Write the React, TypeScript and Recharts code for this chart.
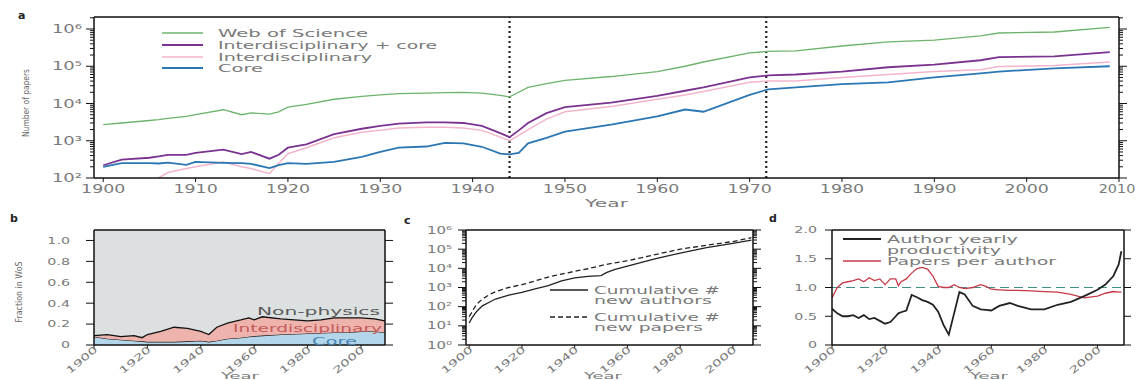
import React from "react";
import {
  LineChart,
  Line,
  AreaChart,
  Area,
  XAxis,
  YAxis,
  ReferenceLine,
  ReferenceArea,
} from "recharts";

// a: number of papers per year (log scale)
const yearsA = [1900, 1902, 1905, 1906, 1907, 1909, 1910, 1913, 1915, 1916, 1918, 1919, 1920, 1922, 1925, 1928, 1930, 1932, 1935, 1937, 1939, 1941, 1943, 1944, 1945, 1946, 1948, 1950, 1955, 1960, 1963, 1965, 1970, 1972, 1975, 1980, 1985, 1990, 1995, 1997, 2003, 2009];
const webOfScience = [2700, 3000, 3500, 3700, 4000, 4500, 5000, 6800, 5000, 5600, 5200, 6000, 8000, 9500, 13000, 15500, 17000, 18500, 19000, 19500, 20000, 19000, 16500, 15000, 20000, 27000, 34000, 42000, 53000, 72000, 100000, 130000, 230000, 250000, 260000, 350000, 450000, 500000, 650000, 780000, 830000, 1100000];
const interPlusCore = [220, 310, 350, 380, 420, 420, 470, 580, 440, 500, 330, 420, 650, 800, 1500, 2100, 2500, 2900, 3100, 3100, 3000, 2500, 1600, 1250, 1900, 3000, 5500, 8000, 10500, 16000, 22000, 27000, 50000, 57000, 60000, 72000, 94000, 110000, 145000, 175000, 185000, 240000];
const interdisciplinary = [null, null, null, 100, 140, 180, 200, 270, 200, 180, 130, 250, 450, 650, 1200, 1700, 1900, 2200, 2300, 2300, 2200, 1900, 1250, 1000, 1400, 2000, 3800, 6000, 8300, 13000, 17000, 21000, 37000, 40000, 40000, 50000, 60000, 72000, 80000, 98000, 105000, 130000];
const corePapers = [200, 250, 250, 245, 260, 225, 270, 255, 250, 240, 185, 220, 250, 240, 270, 370, 500, 650, 700, 880, 850, 690, 450, 430, 470, 850, 1200, 1750, 2700, 4500, 6900, 6000, 17000, 24000, 27000, 33000, 37000, 50000, 64000, 72000, 88000, 100000];
const ticksA = [1900, 1910, 1920, 1930, 1940, 1950, 1960, 1970, 1980, 1990, 2000, 2010];

// b: fraction in WoS
const yearsB = [1900, 1905, 1910, 1915, 1918, 1920, 1925, 1930, 1935, 1940, 1943, 1946, 1950, 1955, 1958, 1960, 1963, 1970, 1975, 1980, 1985, 1990, 1995, 2000, 2005, 2009];
const coreFrac = [0.08, 0.06, 0.05, 0.04, 0.035, 0.03, 0.03, 0.03, 0.035, 0.04, 0.03, 0.04, 0.06, 0.07, 0.08, 0.085, 0.09, 0.1, 0.105, 0.11, 0.115, 0.12, 0.12, 0.13, 0.13, 0.12];
const interFrac = [0.01, 0.04, 0.03, 0.05, 0.035, 0.07, 0.1, 0.14, 0.125, 0.09, 0.07, 0.13, 0.15, 0.17, 0.18, 0.155, 0.18, 0.15, 0.135, 0.12, 0.125, 0.14, 0.14, 0.13, 0.12, 0.11];

// c: cumulative counts
const yearsC = [1900, 1901, 1902, 1903, 1905, 1908, 1910, 1915, 1920, 1925, 1930, 1935, 1940, 1945, 1950, 1952, 1955, 1960, 1970, 1980, 1990, 2000, 2007];
const cumAuthors = [14, 25, 40, 60, 110, 180, 250, 400, 550, 850, 1250, 2200, 3200, 3800, 4200, 6000, 8500, 13000, 30000, 63000, 120000, 200000, 300000];
const cumPapers = [30, 50, 90, 140, 250, 450, 600, 1000, 1400, 2200, 3500, 5000, 7000, 9500, 14000, 16000, 19000, 25000, 50000, 100000, 160000, 250000, 400000];

// d: productivity
const yearsD = [1900, 1902, 1904, 1906, 1908, 1910, 1912, 1914, 1916, 1918, 1920, 1922, 1924, 1925, 1926, 1928, 1930, 1932, 1934, 1936, 1938, 1940, 1942, 1944, 1946, 1948, 1950, 1953, 1956, 1958, 1960, 1963, 1967, 1970, 1975, 1980, 1985, 1990, 1995, 2000, 2003, 2006, 2008, 2009];
const productivity = [0.63, 0.55, 0.5, 0.5, 0.52, 0.47, 0.52, 0.45, 0.47, 0.42, 0.37, 0.4, 0.5, 0.55, 0.57, 0.6, 0.87, 0.83, 0.78, 0.75, 0.7, 0.58, 0.35, 0.18, 0.55, 0.92, 0.88, 0.68, 0.62, 0.61, 0.6, 0.68, 0.73, 0.68, 0.62, 0.62, 0.7, 0.75, 0.85, 0.96, 1.05, 1.2, 1.4, 1.63];
const papersPerAuthor = [0.82, 1.0, 1.08, 1.1, 1.12, 1.15, 1.1, 1.17, 1.12, 1.15, 1.05, 1.15, 1.15, 1.03, 1.1, 1.15, 1.25, 1.33, 1.35, 1.32, 1.2, 1.02, 1.0, 1.0, 1.05, 1.0, 0.98, 1.0, 1.05, 1.02, 0.97, 0.96, 0.95, 0.95, 0.94, 0.93, 0.92, 0.88, 0.82, 0.85, 0.9, 0.93, 0.92, 0.92];

const ticks20 = [1900, 1920, 1940, 1960, 1980, 2000];

const dataA = yearsA.map((year, i) => ({
  year,
  wos: webOfScience[i],
  interCore: interPlusCore[i],
  inter: interdisciplinary[i],
  core: corePapers[i],
}));
const dataB = yearsB.map((year, i) => ({ year, core: coreFrac[i], inter: interFrac[i] }));
const dataC = yearsC.map((year, i) => ({ year, authors: cumAuthors[i], papers: cumPapers[i] }));
const dataD = yearsD.map((year, i) => ({ year, prod: productivity[i], ppa: papersPerAuthor[i] }));

const logTicks = (lo: number, hi: number) => {
  const out: number[] = [];
  for (let e = lo; e <= 6; e++) {
    for (let m = 1; m <= 9; m++) {
      const v = m * Math.pow(10, e);
      if (v <= hi) out.push(v);
    }
  }
  return out;
};
const ticksLogA = logTicks(2, 2.1e6);
const ticksLogC = logTicks(0, 1e6);

const FONT = "'DejaVu Sans', sans-serif";
const GRAY = "#7a7a7a";
const AXIS = "#111";
const SUP = ["⁰", "¹", "²", "³", "⁴", "⁵", "⁶"];

const makeLogTick = (side: "left" | "right", gap: number, fs: number) => (props: any) => {
  const { x, y, payload } = props;
  const v = payload.value;
  const e = Math.round(Math.log10(v));
  const major = Math.abs(v - Math.pow(10, e)) < 1e-6 * v;
  const dir = side === "left" ? -1 : 1;
  const len = major ? 8 : 4;
  return (
    <g>
      <line x1={x} x2={x + dir * len} y1={y} y2={y} stroke={AXIS} strokeWidth={1} />
      {side === "left" && major && (
        <text
          transform={`translate(${x - gap},${y}) scale(1.5,1)`}
          textAnchor="end"
          dy="0.35em"
          fontSize={fs}
          fill={GRAY}
          fontFamily={FONT}
        >
          {`10${SUP[e]}`}
        </text>
      )}
    </g>
  );
};

// the last label sits on the right edge, so it is squeezed a little to stay on the page
const XTickA = ({ x, y, payload }: any) => (
  <text
    transform={`translate(${payload.value === 2010 ? x - 2 : x},${y}) scale(${payload.value === 2010 ? 1.2 : 1.45},1)`}
    textAnchor="middle"
    dy="0.72em"
    fontSize={12}
    fill={GRAY}
    fontFamily={FONT}
  >
    {payload.value}
  </text>
);

const RotTick = ({ x, y, payload }: any) => (
  <text
    transform={`translate(${x + 2},${y - 3}) rotate(-40) scale(1.55,1)`}
    textAnchor="end"
    dy="0.35em"
    fontSize={9.5}
    fill={GRAY}
    fontFamily={FONT}
  >
    {payload.value}
  </text>
);

const linTick = (fmt: (v: number) => string) => ({ x, y, payload }: any) => (
  <text
    transform={`translate(${x},${y}) scale(1.5,1)`}
    textAnchor="end"
    dy="0.35em"
    fontSize={9.5}
    fill={GRAY}
    fontFamily={FONT}
  >
    {fmt(payload.value)}
  </text>
);

const noLabel = () => <g />;

const fmtB = (v: number) => (v === 0 ? "0" : v.toFixed(1));
const fmtD = (v: number) => (v === 0 ? "0" : v.toFixed(1));

const axisLine = { stroke: AXIS, strokeWidth: 1.5 };
const tickLine = { stroke: AXIS, strokeWidth: 1 };

const abs = (left: number, top: number): React.CSSProperties => ({
  position: "absolute",
  left,
  top,
});

const T = (p: { x: number; y: number; w: number; fs?: number; fill?: string; children: string }) => (
  <text
    x={p.x}
    y={p.y}
    dy="0.35em"
    fontSize={p.fs ?? 10}
    fill={p.fill ?? GRAY}
    fontFamily={FONT}
    textLength={p.w}
    lengthAdjust="spacingAndGlyphs"
  >
    {p.children}
  </text>
);

export default function App() {
  return (
    <div style={{ position: "absolute", left: 0, top: 0, width: 1137, height: 380, background: "#fff", overflow: "hidden" }}>
      {/* a */}
      <div style={abs(0, 0)}>
        <LineChart width={1137} height={215} data={dataA} margin={{ top: 16, right: 17, left: 0, bottom: 0 }}>
          <XAxis
            dataKey="year"
            type="number"
            domain={[1899, 2010]}
            allowDataOverflow
            ticks={ticksA}
            interval={0}
            height={37}
            axisLine={axisLine}
            tickLine={tickLine}
            tickSize={4}
            tickMargin={2}
            tick={XTickA}
          />
          <XAxis
            xAxisId="top"
            orientation="top"
            type="number"
            domain={[1899, 2010]}
            allowDataOverflow
            ticks={ticksA}
            interval={0}
            height={1}
            axisLine={axisLine}
            tickLine={tickLine}
            tickSize={3}
            tick={noLabel}
          />
          <YAxis
            scale="log"
            type="number"
            domain={[100, 2.1e6]}
            allowDataOverflow
            ticks={ticksLogA}
            interval={0}
            width={94}
            axisLine={axisLine}
            tickLine={false}
            tickSize={0}
            tickMargin={0}
            tick={makeLogTick("left", 12, 12)}
          />
          <YAxis
            yAxisId="right"
            orientation="right"
            scale="log"
            type="number"
            domain={[100, 2.1e6]}
            allowDataOverflow
            ticks={ticksLogA}
            interval={0}
            width={1}
            axisLine={axisLine}
            tickLine={false}
            tickSize={0}
            tickMargin={0}
            tick={makeLogTick("right", 0, 12)}
          />
          <ReferenceLine x={1944} stroke="#222" strokeWidth={2.2} strokeDasharray="2 3" />
          <ReferenceLine x={1971.8} stroke="#222" strokeWidth={2.2} strokeDasharray="2 3" />
          <Line dataKey="wos" stroke="#6cb46c" strokeWidth={1.3} dot={false} isAnimationActive={false} />
          <Line dataKey="inter" stroke="#f2b5cc" strokeWidth={1.5} dot={false} isAnimationActive={false} />
          <Line dataKey="interCore" stroke="#7a3390" strokeWidth={1.8} dot={false} isAnimationActive={false} />
          <Line dataKey="core" stroke="#2b77b3" strokeWidth={1.8} dot={false} isAnimationActive={false} />
        </LineChart>
      </div>

      {/* b */}
      <div style={abs(0, 200)}>
        <AreaChart width={400} height={180} data={dataB} margin={{ top: 29, right: 14, left: 0, bottom: 0 }}>
          <XAxis
            dataKey="year"
            type="number"
            domain={[1900, 2009]}
            allowDataOverflow
            ticks={ticks20}
            interval={0}
            height={35}
            axisLine={axisLine}
            tickLine={tickLine}
            tickSize={4}
            tickMargin={2}
            tick={RotTick}
          />
          <XAxis
            xAxisId="top"
            orientation="top"
            type="number"
            domain={[1900, 2009]}
            allowDataOverflow
            ticks={ticks20}
            interval={0}
            height={1}
            axisLine={axisLine}
            tickLine={tickLine}
            tickSize={3}
            tick={noLabel}
          />
          <YAxis
            type="number"
            domain={[0, 1.1]}
            allowDataOverflow
            ticks={[0, 0.2, 0.4, 0.6, 0.8, 1.0]}
            interval={0}
            width={94}
            axisLine={axisLine}
            tickLine={tickLine}
            tickSize={8}
            tickMargin={16}
            tick={linTick(fmtB)}
          />
          <YAxis
            yAxisId="right"
            orientation="right"
            type="number"
            domain={[0, 1.1]}
            allowDataOverflow
            ticks={[0, 0.2, 0.4, 0.6, 0.8, 1.0]}
            interval={0}
            width={1}
            axisLine={axisLine}
            tickLine={tickLine}
            tickSize={8}
            tick={noLabel}
          />
          <ReferenceArea x1={1900} x2={2009} y1={0} y2={1.1} fill="#dde0e1" fillOpacity={1} stroke="none" />
          <Area
            dataKey="core"
            stackId="1"
            type="linear"
            fill="#b4d6ea"
            fillOpacity={1}
            stroke="#111"
            strokeWidth={1.1}
            isAnimationActive={false}
          />
          <Area
            dataKey="inter"
            stackId="1"
            type="linear"
            fill="#efb3ad"
            fillOpacity={1}
            stroke="#111"
            strokeWidth={1.3}
            isAnimationActive={false}
          />
        </AreaChart>
      </div>

      {/* c */}
      <div style={abs(380, 200)}>
        <LineChart width={390} height={180} data={dataC} margin={{ top: 29, right: 16, left: 0, bottom: 0 }}>
          <XAxis
            dataKey="year"
            type="number"
            domain={[1898.8, 2007.6]}
            allowDataOverflow
            ticks={ticks20}
            interval={0}
            height={35}
            axisLine={axisLine}
            tickLine={tickLine}
            tickSize={4}
            tickMargin={2}
            tick={RotTick}
          />
          <XAxis
            xAxisId="top"
            orientation="top"
            type="number"
            domain={[1898.8, 2007.6]}
            allowDataOverflow
            ticks={ticks20}
            interval={0}
            height={1}
            axisLine={axisLine}
            tickLine={tickLine}
            tickSize={3}
            tick={noLabel}
          />
          <YAxis
            scale="log"
            type="number"
            domain={[1, 1e6]}
            allowDataOverflow
            ticks={ticksLogC}
            interval={0}
            width={86}
            axisLine={axisLine}
            tickLine={false}
            tickSize={0}
            tickMargin={0}
            tick={makeLogTick("left", 14, 10)}
          />
          <YAxis
            yAxisId="right"
            orientation="right"
            scale="log"
            type="number"
            domain={[1, 1e6]}
            allowDataOverflow
            ticks={ticksLogC}
            interval={0}
            width={1}
            axisLine={axisLine}
            tickLine={false}
            tickSize={0}
            tickMargin={0}
            tick={makeLogTick("right", 0, 10)}
          />
          <Line dataKey="authors" stroke="#222" strokeWidth={1.3} dot={false} isAnimationActive={false} />
          <Line dataKey="papers" stroke="#222" strokeWidth={1.3} strokeDasharray="5 3" dot={false} isAnimationActive={false} />
        </LineChart>
      </div>

      {/* d */}
      <div style={abs(760, 200)}>
        <LineChart width={377} height={180} data={dataD} margin={{ top: 29, right: 12, left: 0, bottom: 0 }}>
          <XAxis
            dataKey="year"
            type="number"
            domain={[1900, 2010]}
            allowDataOverflow
            ticks={ticks20}
            interval={0}
            height={35}
            axisLine={axisLine}
            tickLine={tickLine}
            tickSize={4}
            tickMargin={2}
            tick={RotTick}
          />
          <XAxis
            xAxisId="top"
            orientation="top"
            type="number"
            domain={[1900, 2010]}
            allowDataOverflow
            ticks={ticks20}
            interval={0}
            height={1}
            axisLine={axisLine}
            tickLine={tickLine}
            tickSize={3}
            tick={noLabel}
          />
          <YAxis
            type="number"
            domain={[0, 2]}
            allowDataOverflow
            ticks={[0, 0.5, 1, 1.5, 2]}
            interval={0}
            width={72}
            axisLine={axisLine}
            tickLine={tickLine}
            tickSize={7}
            tickMargin={8}
            tick={linTick(fmtD)}
          />
          <YAxis
            yAxisId="right"
            orientation="right"
            type="number"
            domain={[0, 2]}
            allowDataOverflow
            ticks={[0, 0.5, 1, 1.5, 2]}
            interval={0}
            width={1}
            axisLine={axisLine}
            tickLine={tickLine}
            tickSize={7}
            tick={noLabel}
          />
          <ReferenceLine y={1} stroke="#3f8f86" strokeWidth={1} strokeDasharray="9 5" />
          <Line dataKey="ppa" stroke="#c63a48" strokeWidth={1.3} dot={false} isAnimationActive={false} />
          <Line dataKey="prod" stroke="#222" strokeWidth={1.8} dot={false} isAnimationActive={false} />
        </LineChart>
      </div>

      {/* titles, legends, panel letters */}
      <svg width={1137} height={380} style={{ position: "absolute", left: 0, top: 0, pointerEvents: "none" }}>
        <g fontFamily={FONT} fontWeight="bold" fontSize={11} fill="#222">
          <text x={18} y={19}>a</text>
          <text x={10} y={222}>b</text>
          <text x={404} y={224}>c</text>
          <text x={769} y={222}>d</text>
        </g>

        <text transform="translate(26,103) rotate(-90)" textAnchor="middle" dy="0.35em" fontSize={9} fill="#666" fontFamily={FONT} textLength={68} lengthAdjust="spacingAndGlyphs">
          Number of papers
        </text>
        <text transform="translate(19,292) rotate(-90)" textAnchor="middle" dy="0.35em" fontSize={9} fill="#666" fontFamily={FONT} textLength={61} lengthAdjust="spacingAndGlyphs">
          Fraction in WoS
        </text>

        <T x={585} y={203} w={43} fs={11}>Year</T>
        <T x={221} y={376} w={38} fs={8}>Year</T>
        <T x={584} y={376} w={38} fs={8}>Year</T>
        <T x={970} y={376} w={38} fs={8}>Year</T>

        {/* legend a */}
        <line x1={162} x2={203} y1={33} y2={33} stroke="#6cb46c" strokeWidth={1.3} />
        <line x1={162} x2={203} y1={45} y2={45} stroke="#7a3390" strokeWidth={1.8} />
        <line x1={162} x2={203} y1={57} y2={57} stroke="#f2b5cc" strokeWidth={1.5} />
        <line x1={162} x2={203} y1={68} y2={68} stroke="#2b77b3" strokeWidth={1.8} />
        <T x={218} y={33} w={150}>Web of Science</T>
        <T x={218} y={45} w={219}>Interdisciplinary + core</T>
        <T x={218} y={57} w={154}>Interdisciplinary</T>
        <T x={218} y={68} w={45}>Core</T>

        {/* b labels */}
        <T x={257} y={311} w={123} fill="#5a5a5a">Non-physics</T>
        <T x={233} y={328} w={149} fill="#c55a5a">Interdisciplinary</T>
        <T x={312} y={341} w={45} fill="#4a86b4">Core</T>

        {/* legend c */}
        <line x1={550} x2={588} y1={290} y2={290} stroke="#222" strokeWidth={1.3} />
        <line x1={550} x2={588} y1={317} y2={317} stroke="#222" strokeWidth={1.3} strokeDasharray="5 3" />
        <T x={594} y={290} w={126}>Cumulative #</T>
        <T x={594} y={300} w={118}>new authors</T>
        <T x={594} y={317} w={126}>Cumulative #</T>
        <T x={594} y={327} w={109}>new papers</T>

        {/* legend d */}
        <line x1={843} x2={881} y1={239} y2={239} stroke="#222" strokeWidth={1.8} />
        <line x1={843} x2={881} y1={261} y2={261} stroke="#c63a48" strokeWidth={1.3} />
        <T x={887} y={239} w={131}>Author yearly</T>
        <T x={887} y={250} w={114}>productivity</T>
        <T x={887} y={261} w={169}>Papers per author</T>
      </svg>
    </div>
  );
}
